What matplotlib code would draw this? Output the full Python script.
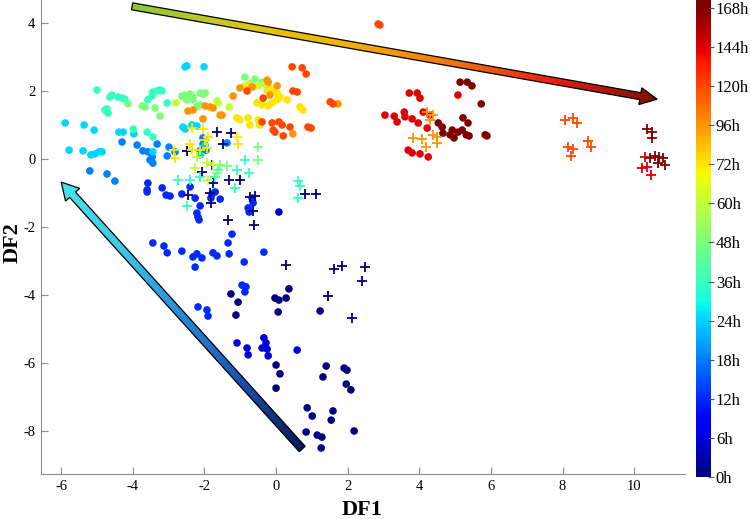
import numpy as np
import matplotlib
matplotlib.use('Agg')
import matplotlib.pyplot as plt
from matplotlib.colors import LinearSegmentedColormap
from matplotlib.patches import Polygon

plt.rcParams['font.family'] = 'Liberation Serif'
plt.rcParams['axes.unicode_minus'] = False

# colour bar: equally spaced time labels
hour_ticks = [0, 6, 12, 18, 24, 36, 48, 60, 72, 96, 120, 144, 168]
hour_labels = ['%dh' % h for h in hour_ticks]

# discriminant scores (DF1, DF2), filled dots
dots_0h = [(-1.26,-3.97),(-1.06,-4.21),(-1.12,-4.59),(-0.03,-4.09),(0.08,-4.15),(0.28,-4.09),
           (0.36,-3.82),(0.06,-4.50),(1.23,-4.47),(0.00,-6.06),(0.11,-6.32),(0.00,-6.74),
           (1.40,-6.09),(1.31,-6.41),(1.90,-6.15),(1.98,-6.21),(1.96,-6.62),(2.09,-6.79),
           (0.87,-7.32),(1.01,-7.56),(1.59,-7.41),(1.54,-7.68),(0.84,-8.03),(1.15,-8.12),
           (1.28,-8.18),(1.26,-8.50),(2.18,-8.00)]
dots_6h = [(-1.09,-5.41),(-0.81,-5.56),(-0.78,-5.76),(-0.34,-5.26),(-0.28,-5.41),(-0.39,-5.56),
           (-0.25,-5.59),(-0.22,-5.79),(0.59,-5.62),(0.08,-1.56)]
dots_12h = [(-3.04,-2.76),(-2.63,-2.71),(-2.32,-2.88),(-2.26,-3.18),(-2.21,-2.79),(-2.07,-2.91),
            (-1.76,-2.76),(-1.65,-2.85),(-1.31,-2.79),(-0.89,-3.03),(-0.34,-2.74),(-3.44,-2.47),
            (-3.13,-2.56),(-1.34,-2.47),(-1.23,-2.21),(-0.95,-3.71),(-0.84,-3.76),(-0.87,-3.91),
            (-1.93,-4.44),(-1.90,-4.62),(-2.18,-4.35),(-3.58,-0.71),(-3.60,-0.91),(-3.60,-0.97),
            (-3.18,-0.85),(-3.07,-1.06),(-2.96,-1.09),(-2.63,-1.03),(-2.40,-0.82),(-2.26,-1.15),
            (-2.12,-1.38),(-1.79,-1.03),(-1.70,-0.97),(-1.56,-1.18),(-1.82,-1.15),(-2.21,-1.59),
            (-2.18,-1.71),(-2.15,-1.79),(-0.78,-1.44),(-0.64,-1.29),(-0.67,-1.15),(-0.75,-1.56)]
dots_18h = [(-4.30,0.50),(-3.88,0.41),(-3.72,0.24),(-3.58,0.21),(-3.46,0.06),(-3.52,-0.03),
            (-3.44,-0.12),(-3.32,0.44),(-2.99,0.35),(-2.82,0.21),(-3.04,0.09),(-5.20,-0.35),
            (-4.72,-0.44),(-4.50,-0.65),(-2.04,0.44),(-2.04,0.62),(-1.96,0.26),(-2.12,0.24),
            (-1.37,0.47)]
dots_24h = [(-5.89,1.06),(-5.78,0.26),(-5.39,0.24),(-5.36,1.00),(-5.08,0.85),(-5.17,0.12),
            (-5.06,0.15),(-4.94,0.21),(-4.86,0.21),(-4.39,0.79),(-4.27,0.79),(-3.97,0.74),
            (-3.44,0.21),(-2.60,0.94),(-2.54,0.88),(-2.35,1.00),(-2.21,0.97),(-2.54,2.71),
            (-2.49,2.74),(-2.01,2.71),(-2.12,0.12),(-1.98,0.41)]
dots_36h = [(-5.00,2.03),(-4.58,1.88),(-4.64,1.82),(-4.41,1.82),(-4.30,1.79),(-4.22,1.76),
            (-4.72,1.47),(-4.69,1.35),(-4.78,1.44),(-3.99,0.88),(-3.60,0.79),(-3.44,0.65),
            (-3.44,1.97),(-3.32,2.00),(-3.24,2.03),(-3.18,2.00),(-3.58,1.74),(-3.46,1.85),
            (-3.04,1.65)]
dots_48h = [(-4.13,1.62),(-3.74,1.56),(-3.66,1.53),(-3.38,1.50),(-3.24,1.26),(-2.63,1.85),
            (-2.54,1.88),(-2.40,1.91),(-2.32,1.82),(-2.49,1.74),(-2.32,1.74),(-2.12,1.94),
            (-2.04,1.91),(-1.98,1.94),(-2.21,1.53),(-2.12,1.59),(-0.87,2.41),(-0.59,2.35),
            (-0.73,2.21),(-0.39,2.26),(-0.22,2.12)]
dots_60h = [(-2.79,1.65),(-1.65,1.71),(-1.62,1.65),(-1.31,1.53),(-0.87,2.15),(-0.50,2.15),
            (-0.31,2.21)]
dots_72h = [(-0.78,2.18),(-0.64,2.12),(-0.25,2.03),(-0.11,2.03),(0.03,1.94),(0.11,1.82),
            (0.31,1.74),(-0.53,1.65),(-0.39,1.59),(-0.11,1.65),(-0.22,1.56),(-1.09,1.21),
            (-1.01,1.15),(-0.78,1.21),(-0.73,1.00),(-0.50,1.15),(-0.45,1.00),(0.67,1.53),
            (0.75,1.44),(0.03,1.74)]
dots_96h = [(-2.46,1.41),(-2.32,1.44),(-2.04,1.18),(-1.98,1.56),(-1.84,1.53),(-1.76,1.50),
            (-1.56,1.29),(-1.51,1.29),(-1.20,1.85),(-1.01,2.09),(-0.67,2.12),(-0.25,2.32),
            (-0.22,2.26),(0.03,2.15),(0.47,0.74),(-0.17,1.88),(1.73,1.62)]
dots_120h = [(-0.81,2.00),(-0.36,1.79),(0.45,2.71),(0.73,2.68),(0.84,2.50),(0.47,2.00),
             (0.59,1.97),(-0.39,1.09),(-0.11,1.06),(0.08,1.09),(0.17,1.00),(-0.08,0.85),
             (-0.03,0.79),(0.20,0.68),(0.39,0.94),(0.98,0.91),(0.89,0.94),(1.51,1.68),
             (1.59,1.62),(2.85,3.97),(2.90,3.94)]
dots_144h = [(3.04,1.29),(3.30,1.26),(3.38,1.09),(3.58,1.38),(3.60,1.24),(3.80,1.18),
             (3.72,1.94),(3.94,1.94),(4.02,1.79),(3.97,1.06),(4.11,1.38),(4.22,0.91),
             (4.30,1.29),(3.69,0.26),(3.80,0.18),(4.02,0.15),(4.25,0.06),(5.08,1.88)]
dots_168h = [(5.14,2.26),(5.34,2.26),(5.47,2.15),(5.73,1.62),(4.53,1.06),(4.64,0.94),
             (4.66,0.76),(4.92,0.85),(4.97,0.62),(5.08,0.79),(5.20,0.85),(5.22,1.21),
             (5.36,1.06),(5.31,0.71),(5.39,0.68),(5.84,0.71),(5.89,0.68),(4.86,0.71)]

# crosses
cross_0h = [(-2.49,0.24),(-1.65,0.79),(-1.26,0.76),(-1.48,0.44),(-2.07,-0.38),(-1.76,-0.71),
            (-1.31,-0.62),(-1.01,-0.62),(-2.46,-1.06),(-1.84,-1.00),(-1.82,-1.29),(-0.73,-1.12),
            (-0.59,-1.09),(-0.64,-1.53),(-1.34,-1.79),(-0.61,-1.94),(0.81,-1.03),(1.12,-1.03),
            (0.28,-3.12),(1.62,-3.24),(1.84,-3.15),(2.49,-3.18),(2.40,-3.59),(1.45,-4.03),
            (2.12,-4.68),(-1.79,-0.18)]
cross_36h = [(-2.74,-0.62),(-2.40,-0.62),(-2.49,-1.38),(-2.12,-0.53),(-1.70,-0.53),(-1.09,-0.32),
             (-1.15,-0.85),(-0.87,-0.03),(-0.75,-0.41),(0.61,-0.65),(0.67,-0.79),(0.61,-1.15),
             (-1.62,-0.32)]
cross_48h = [(-0.50,0.35),(-0.50,-0.03),(-1.56,-0.18),(-1.37,-0.21),(-1.65,-0.41)]
cross_60h = [(-1.93,-0.12),(-1.76,-0.18),(-1.90,-0.62),(-2.26,-0.26),(-2.21,0.06)]
cross_72h = [(-2.35,0.91),(-2.04,0.88),(-1.90,0.65),(-1.09,0.65),(-1.06,0.44),(-2.40,0.44),
             (-2.35,0.26),(-2.85,0.26),(-2.82,0.03),(-2.12,0.26),(-1.93,0.32),(-1.98,0.56)]
cross_96h = [(4.22,1.38),(4.39,1.29),(4.30,1.15),(3.83,0.62),(4.08,0.59),(4.39,0.71),
             (4.50,0.65),(4.19,0.35),(4.50,0.47)]
cross_120h = [(8.07,1.15),(8.30,1.21),(8.41,1.06),(8.72,0.53),(8.80,0.35),(8.16,0.35),
              (8.30,0.29),(8.24,0.09)]
cross_144h = [(10.31,0.06),(10.22,-0.26),(10.36,-0.24),(10.47,-0.47)]
cross_168h = [(10.36,0.88),(10.50,0.79),(10.50,0.62),(10.59,0.09),(10.70,0.06),(10.81,0.03),
              (10.87,-0.18),(10.67,-0.12),(10.45,0.03)]

dot_groups = [(0, dots_0h), (6, dots_6h), (12, dots_12h), (18, dots_18h), (24, dots_24h),
              (36, dots_36h), (48, dots_48h), (60, dots_60h), (72, dots_72h), (96, dots_96h),
              (120, dots_120h), (144, dots_144h), (168, dots_168h)]
cross_groups = [(0, cross_0h), (36, cross_36h), (48, cross_48h), (60, cross_60h), (72, cross_72h),
                (96, cross_96h), (120, cross_120h), (144, cross_144h), (168, cross_168h)]

jet = plt.get_cmap('jet')
def hour_color(h):
    return jet(hour_ticks.index(h) / 12.0)

fig = plt.figure(figsize=(7.5, 5.19), dpi=100)
ax = fig.add_axes([41/750, 45/519, 644/750, 474/519])
xlim = (-6.564, 11.42)
ylim = (-9.265, 4.676)

for h, pts in dot_groups:
    p = np.array(pts)
    ax.scatter(p[:, 0], p[:, 1], s=30, color=hour_color(h), edgecolors='none', zorder=2)
for h, pts in cross_groups:
    p = np.array(pts)
    ax.scatter(p[:, 0], p[:, 1], s=55, marker='+', color=hour_color(h), linewidths=1.3, zorder=3)

ax.set_xlim(xlim)
ax.set_ylim(ylim)


def gradient_arrow(start, end, colors, shaft_w, head_w, head_l):
    p0 = ax.transData.transform(start)
    p1 = ax.transData.transform(end)
    d = p1 - p0
    L = np.hypot(*d)
    u = d / L
    n = np.array([-u[1], u[0]])
    base = p1 - u * head_l
    pts = [p0 + n*shaft_w, base + n*shaft_w, base + n*head_w, p1,
           base - n*head_w, base - n*shaft_w, p0 - n*shaft_w]
    dpts = ax.transData.inverted().transform(np.array(pts))
    poly = Polygon(dpts, closed=True, facecolor='none', edgecolor='black', lw=0.9, zorder=6)
    ax.add_patch(poly)
    x0, y0 = dpts.min(0)
    x1, y1 = dpts.max(0)
    N = 400
    gx, gy = np.meshgrid(np.linspace(x0, x1, N), np.linspace(y0, y1, N))
    disp = ax.transData.transform(np.column_stack([gx.ravel(), gy.ravel()]))
    t = ((disp - p0) @ u) / L
    cm = LinearSegmentedColormap.from_list('grad', colors)
    img = cm(np.clip(t, 0, 1)).reshape(N, N, 4)
    im = ax.imshow(img, extent=[x0, x1, y0, y1], origin='lower', aspect='auto',
                   zorder=5, interpolation='bilinear')
    im.set_clip_path(poly)


gradient_arrow((-4.02, 4.49), (10.64, 1.76),
               ['#8cc63a', '#d8c81a', '#f5b400', '#f07a10', '#e82010', '#7a1208'],
               3.5, 8.5, 17)
gradient_arrow((0.73, -8.53), (-6.0, -0.68),
               ['#0a1a5a', '#1a50b0', '#2a8ad8', '#3cc8e6', '#44e4ea'],
               4.0, 9.5, 17)

ax.set_xlim(xlim)
ax.set_ylim(ylim)
ax.set_xticks([-6, -4, -2, 0, 2, 4, 6, 8, 10])
ax.set_yticks([-8, -6, -4, -2, 0, 2, 4])
for s in ['top', 'right']:
    ax.spines[s].set_visible(False)
for s in ['left', 'bottom']:
    ax.spines[s].set_color('#8c8c8c')
ax.tick_params(direction='in', length=5, color='#8c8c8c', labelsize=10.5, pad=4)

fig.text(362/750, 1 - 510/519, 'DF1', fontsize=16, fontweight='bold', ha='center', va='center')
fig.text(13/750, 1 - 243/519, 'DF2', fontsize=16, fontweight='bold', ha='center', va='center',
         rotation=90)

# colour bar
cax = fig.add_axes([696/750, 42/519, 15/750, 477/519])
grad = np.linspace(0, 12.2, 600)[:, None]
cax.imshow(grad, cmap='jet', vmin=0, vmax=12, aspect='auto', origin='lower',
           extent=[0, 1, 0, 12.2])
cax.set_xlim(0, 1)
cax.set_ylim(0, 12.2)
cax.set_xticks([])
cax.yaxis.tick_right()
cax.set_yticks(range(13))
cax.set_yticklabels(hour_labels)
cax.tick_params(axis='y', direction='inout', length=5, color='#555555', labelsize=12, pad=1)
for s in cax.spines.values():
    s.set_visible(False)

fig.savefig('out.png', dpi=100)
